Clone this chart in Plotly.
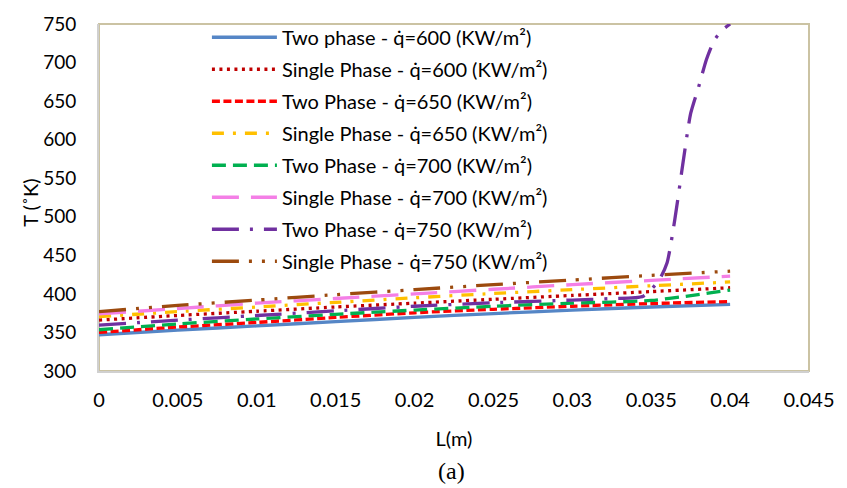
import plotly.graph_objects as go

# Axial position along the channel (m)
L = [0, 0.005, 0.01, 0.015, 0.02, 0.025, 0.03, 0.035, 0.04]

# Wall temperature (K) for each heat flux case
two_600 = [347, 353, 358.5, 364, 369.5, 374.5, 379, 383, 386.5]
single_600 = [366, 372, 377.5, 383, 388, 393, 398, 403, 408]
two_650 = [350, 357, 363, 369.5, 375.5, 380, 384, 387.5, 390]
single_650 = [370.5, 377, 383, 389, 395, 400.5, 405.5, 410.5, 415.5]
two_700 = [353.5, 361, 367.5, 373.5, 379, 384, 388, 391.5, 405]
single_700 = [374, 381, 388, 394, 400, 406, 412, 417.5, 423]
single_750 = [377, 385, 392, 399, 405.5, 412, 418, 424, 429.5]

# The 750 kW/m2 two-phase case runs away near the outlet, so it is sampled finer there
L_750 = [0, 0.005, 0.01, 0.015, 0.02, 0.025, 0.03, 0.0325, 0.0345, 0.0355,
         0.036, 0.0365, 0.037, 0.0375, 0.038, 0.0385, 0.039, 0.0395, 0.04]
two_750 = [359.5, 366, 372, 378, 384, 388.5, 392, 394, 397, 418,
           440, 497, 568, 634, 668, 704, 729, 742, 750]

x_ticks = [0, 0.005, 0.01, 0.015, 0.02, 0.025, 0.03, 0.035, 0.04, 0.045]
x_tick_text = ["0", "0.005", "0.01", "0.015", "0.02", "0.025", "0.03", "0.035", "0.04", "0.045"]
y_ticks = [300, 350, 400, 450, 500, 550, 600, 650, 700, 750]

series = [
    ("Two phase - q̇=600 (KW/m²)", L, two_600, "#5586C6", "solid"),
    ("Single Phase - q̇=600 (KW/m²)", L, single_600, "#C00000", "3px,4.5px"),
    ("Two Phase - q̇=650 (KW/m²)", L, two_650, "#FF0000", "8px,3.5px"),
    ("Single Phase - q̇=650 (KW/m²)", L, single_650, "#FFC000", "12px,9px,3px,9px"),
    ("Two Phase - q̇=700 (KW/m²)", L, two_700, "#00B050", "14px,7px"),
    ("Single Phase - q̇=700 (KW/m²)", L, single_700, "#F47FE6", "27px,12px"),
    ("Two Phase - q̇=750 (KW/m²)", L_750, two_750, "#7030A0", "27px,11px,3px,11px"),
    ("Single Phase - q̇=750 (KW/m²)", L, single_750, "#9C4A0E", "27px,10px,3px,10px,3px,10px"),
]

fig = go.Figure()
for name, xs, ys, color, dash in series:
    fig.add_trace(go.Scatter(
        x=xs, y=ys, name=name, mode="lines",
        line=dict(color=color, width=3.3, dash=dash, shape="spline", smoothing=0.6),
        legendgroup=name,
    ))

axis_font = dict(family="Lato, 'Open Sans', sans-serif", size=20, color="#000000")
ytick_font = dict(family="Lato, 'Open Sans', sans-serif", size=19, color="#000000")

fig.update_layout(
    width=847, height=488,
    margin=dict(l=99, r=34, t=19, b=117),
    paper_bgcolor="white", plot_bgcolor="white",
    font=axis_font,
    showlegend=True,
    legend=dict(
        x=0.152, y=1.018, xanchor="left", yanchor="top",
        bgcolor="rgba(0,0,0,0)", itemwidth=65,
        tracegroupgap=3, maxheight=480,
        font=axis_font,
    ),
    xaxis=dict(
        range=[0, 0.045], tickvals=x_ticks, ticktext=x_tick_text,
        showgrid=False, zeroline=False, showline=True, linecolor="#D0D0D0", linewidth=2,
        ticks="", tickfont=axis_font, ticklabelstandoff=10,
        title=dict(text="L(m)", font=axis_font, standoff=22),
    ),
    yaxis=dict(
        range=[300, 750], tickvals=y_ticks,
        showgrid=False, zeroline=False, showline=True, linecolor="#D0D0D0", linewidth=2,
        ticks="", tickfont=ytick_font, ticklabelstandoff=17,
    ),
    shapes=[dict(
        type="rect", xref="paper", yref="paper", x0=0, y0=0, x1=1, y1=1,
        line=dict(color="#CBC3A3", width=2), layer="below",
    )],
    annotations=[
        dict(
            text="T (˚K)", xref="paper", yref="paper", x=-0.0966, y=0.486,
            xanchor="center", yanchor="middle", textangle=-90, showarrow=False,
            font=axis_font,
        ),
        dict(
            text="(a)", xref="paper", yref="paper", x=0.497, y=-0.245,
            xanchor="center", yanchor="top", showarrow=False,
            font=dict(family="'Liberation Serif', 'DejaVu Serif', serif", size=24, color="#000000"),
        ),
    ],
)

fig.write_html("out.html")
